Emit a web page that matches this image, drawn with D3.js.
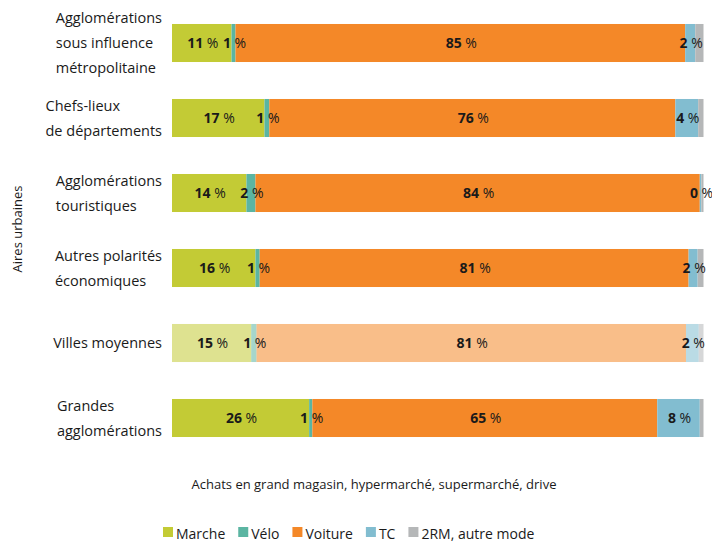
<!DOCTYPE html>
<html>
<head>
<meta charset="utf-8">
<script src="https://cdn.jsdelivr.net/npm/d3@7"></script>
<style>
  html, body { margin: 0; padding: 0; background: #fff; }
  svg { display: block; font-family: "Open Sans", sans-serif; }
</style>
</head>
<body>
<div id="chart"></div>
<script>
// Parts modales, achats en grande surface, par type d'aire urbaine
const categories = [
  ['Agglomérations', 'sous influence', 'métropolitaine'],
  ['Chefs-lieux', 'de départements'],
  ['Agglomérations', 'touristiques'],
  ['Autres polarités', 'économiques'],
  ['Villes moyennes'],
  ['Grandes', 'agglomérations']
];
const modes = ['Marche', 'Vélo', 'Voiture', 'TC', '2RM, autre mode'];
const marche  = [11.2, 17.4, 14.0, 15.7, 14.9, 25.8];
const velo    = [0.75, 0.9, 1.7, 0.8, 1.0, 0.6];
const voiture = [84.6, 76.4, 83.6, 80.7, 80.8, 64.9];
const tc      = [1.9, 4.3, 0.3, 1.7, 2.4, 8.0];
const autre   = [1.55, 1.0, 0.4, 1.1, 0.9, 0.7];
const fadedRow = 4; // Villes moyennes drawn lighter
const labelledModes = ['Marche', 'Vélo', 'Voiture', 'TC'];

const W = 712, H = 544;
const colors = {
  'Marche': '#c3cb35',
  'Vélo': '#5bb5a2',
  'Voiture': '#f48828',
  'TC': '#82bdd0',
  '2RM, autre mode': '#b5b7b8'
};

const rows = categories.map(function(c, i) {
  return { i: i, 'Marche': marche[i], 'Vélo': velo[i], 'Voiture': voiture[i], 'TC': tc[i], '2RM, autre mode': autre[i] };
});

const x = d3.scaleLinear().domain([0, 100]).range([172, 703.5]);
const y = d3.scaleBand()
  .domain(d3.range(categories.length))
  .range([5.5, 455.5])
  .paddingInner(0.493)
  .paddingOuter(0.2465);

const svg = d3.select('#chart').append('svg')
  .attr('width', W).attr('height', H);

const stack = d3.stack().keys(modes)(rows);

// Bars
const layer = svg.append('g').selectAll('g')
  .data(stack).join('g')
  .attr('fill', function(d) { return colors[d.key]; });

layer.selectAll('rect')
  .data(function(d) { return d; })
  .join('rect')
  .attr('x', function(d) { return x(d[0]); })
  .attr('y', function(d) { return y(d.data.i); })
  .attr('width', function(d) { return x(d[1]) - x(d[0]); })
  .attr('height', y.bandwidth())
  .attr('fill-opacity', function(d) { return d.data.i === fadedRow ? 0.55 : 1; });

// Value labels
const labels = svg.append('g').attr('fill', '#1a1a1a').attr('font-size', 14);
stack.forEach(function(s) {
  if (labelledModes.indexOf(s.key) < 0) return;
  s.forEach(function(d) {
    const t = labels.append('text')
      .attr('x', (x(d[0]) + x(d[1])) / 2 + 1)
      .attr('y', y(d.data.i) + y.bandwidth() / 2 + 5)
      .attr('text-anchor', 'middle');
    t.append('tspan').attr('font-weight', 700).text(Math.round(d[1] - d[0]));
    t.append('tspan').attr('font-weight', 400).text(' %');
  });
});

// Category labels: left-aligned block, right edge near the bars
const catG = svg.append('g').attr('fill', '#1a1a1a').attr('font-size', 14.5);
categories.forEach(function(lines, i) {
  const cy = y(i) + y.bandwidth() / 2;
  const lh = 25;
  const g = catG.append('g');
  const texts = lines.map(function(line, k) {
    return g.append('text')
      .attr('y', cy + (k - (lines.length - 1) / 2) * lh + 5)
      .text(line);
  });
  const maxW = d3.max(texts, function(t) { return t.node().getComputedTextLength(); });
  texts.forEach(function(t) { t.attr('x', 162 - maxW); });
});

// Axis titles
svg.append('text')
  .attr('transform', 'translate(22,229) rotate(-90)')
  .attr('text-anchor', 'middle')
  .attr('font-size', 13)
  .attr('fill', '#1a1a1a')
  .text('Aires urbaines');

svg.append('text')
  .attr('x', 374).attr('y', 489)
  .attr('text-anchor', 'middle')
  .attr('font-size', 13)
  .attr('fill', '#1a1a1a')
  .text('Achats en grand magasin, hypermarché, supermarché, drive');

// Legend
const legend = svg.append('g').attr('font-size', 14).attr('fill', '#1a1a1a');
let lx = 163;
modes.forEach(function(m) {
  legend.append('rect')
    .attr('x', lx).attr('y', 527)
    .attr('width', 10).attr('height', 10)
    .attr('fill', colors[m]);
  const t = legend.append('text')
    .attr('x', lx + 13).attr('y', 539)
    .text(m);
  lx += 13 + t.node().getComputedTextLength() + 13;
});
</script>
</body>
</html>
